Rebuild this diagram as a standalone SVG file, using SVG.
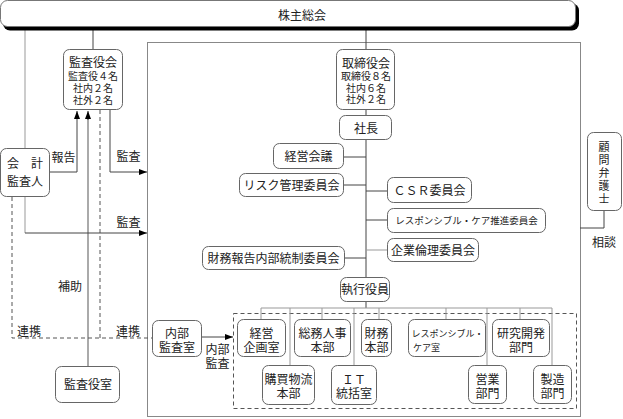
<svg xmlns="http://www.w3.org/2000/svg" width="623" height="419" viewBox="0 0 623 419">
<style>
text{font-family:"Noto Sans CJK JP","Noto Sans",sans-serif;fill:#222;text-anchor:middle}
.t12{font-size:12px}
.t11{font-size:11px}
.t10{font-size:10px}
.t9{font-size:9.5px}
.t9s{font-size:9px}
.box{fill:#fff;stroke:#666;stroke-width:1}
.ln{fill:none;stroke:#444;stroke-width:1}
.lg{fill:none;stroke:#999;stroke-width:1}
.lgw{fill:none;stroke:#aaa;stroke-width:2}
.dash{fill:none;stroke:#555;stroke-width:1;stroke-dasharray:4,3}
</style>
<defs>
<marker id="ah" markerWidth="8" markerHeight="6" refX="8" refY="3" orient="auto" markerUnits="userSpaceOnUse">
<path d="M0,0 L8,3 L0,6 z" fill="#000"/>
</marker>
</defs>
<rect width="623" height="419" fill="#fff"/>

<!-- frames -->
<rect x="147.5" y="42.5" width="433" height="374" fill="none" stroke="#888"/>
<rect x="233.5" y="313.5" width="343" height="95" class="dash" stroke="#888"/>

<g id="connectors">
<path class="lg" d="M25,30 V148"/>
<path class="ln" d="M93,30 V49"/>
<path class="ln" d="M366,30 V49"/>
<path class="ln" d="M50,172 H77 V111" marker-end="url(#ah)"/>
<path class="lgw" d="M88,366 V116"/>
<path class="ln" d="M88,120 V111" marker-end="url(#ah)"/>
<path class="dash" d="M100,110 V338"/>
<path class="ln" d="M110,110 V172 H147" marker-end="url(#ah)"/>
<path class="lg" d="M25,197 V233"/>
<path class="ln" d="M25,233 H147" marker-end="url(#ah)"/>
<path class="dash" d="M12,197 V338 H152"/>
<path class="ln" d="M202,337 H233" marker-end="url(#ah)"/>
<path class="ln" d="M604,210 V228 H580"/>
<path class="ln" d="M366,110 V115"/>
<path class="ln" d="M366,139 V277"/>
<path class="ln" d="M344,157 H366"/>
<path class="ln" d="M344,185 H366"/>
<path class="ln" d="M366,191 H387"/>
<path class="ln" d="M366,220 H387"/>
<path class="lg" d="M366,250 H387"/>
<path class="ln" d="M345,258 H366"/>
<path class="ln" d="M366,301 V308"/>
<path class="lg" d="M261,308 H552"/>
<path class="lg" d="M261,308 V319 M290,308 V365 M322,308 V319 M354,308 V365 M379,308 V319 M446,308 V319 M487,308 V365 M520,308 V319 M552,308 V365"/>
</g>

<g id="shareholders">
<rect x="3" y="3.5" width="576" height="27" rx="7" fill="#000"/>
<rect x="0.5" y="0.5" width="575" height="26" rx="7" fill="#fff" stroke="#777"/>
<text class="t12" x="302" y="19.5">株主総会</text>
</g>

<g id="kansayakukai">
<rect class="box" x="63.5" y="49.5" width="59" height="60" rx="6"/>
<text class="t12" x="93" y="66.5">監査役会<tspan class="t10" x="93" dy="13">監査役４名</tspan><tspan class="t10" x="93" dy="12.5">社内２名</tspan><tspan class="t10" x="93" dy="12">社外２名</tspan></text>
</g>

<g id="kaikei">
<rect class="box" x="0.5" y="148.5" width="49" height="48" rx="6"/>
<text class="t12" x="25" y="168">会　計<tspan x="25" dy="17.5">監査人</tspan></text>
</g>

<g id="kansayakushitsu">
<rect class="box" x="55.5" y="366.5" width="64" height="36" rx="6"/>
<text class="t12" x="88" y="389">監査役室</text>
</g>

<g id="naibukansa">
<rect class="box" x="152.5" y="320.5" width="49" height="36" rx="6"/>
<text class="t12" x="177" y="337.5">内部<tspan x="177" dy="14">監査室</tspan></text>
</g>

<g id="torishimariyakukai">
<rect class="box" x="336.5" y="49.5" width="58" height="60" rx="6"/>
<text class="t12" x="366" y="67.5">取締役会<tspan class="t10" x="366" dy="12.5">取締役８名</tspan><tspan class="t10" x="366" dy="11.5">社内６名</tspan><tspan class="t10" x="366" dy="11.5">社外２名</tspan></text>
</g>

<g id="shacho">
<rect class="box" x="339.5" y="115.5" width="52" height="24" rx="6"/>
<text class="t12" x="366" y="132.5">社長</text>
</g>

<g id="keieikaigi">
<rect class="box" x="273.5" y="143.5" width="70" height="25" rx="6"/>
<text class="t12" x="308.5" y="161">経営会議</text>
</g>

<g id="risk">
<rect class="box" x="239.5" y="173.5" width="104" height="23" rx="6"/>
<text class="t12" x="291.5" y="189.5">リスク管理委員会</text>
</g>

<g id="csr">
<rect class="box" x="387.5" y="177.5" width="84" height="25" rx="6"/>
<text class="t12" x="429.5" y="194.5">ＣＳＲ委員会</text>
</g>

<g id="rc">
<rect class="box" x="387.5" y="208.5" width="158" height="24" rx="6"/>
<text class="t9" x="466.5" y="224">レスポンシブル・ケア推進委員会</text>
</g>

<g id="rinri">
<rect class="box" x="387.5" y="238.5" width="91" height="23" rx="6"/>
<text class="t12" x="433" y="254.5">企業倫理委員会</text>
</g>

<g id="zaimuhokoku">
<rect class="box" x="202.5" y="246.5" width="142" height="23" rx="6"/>
<text class="t12" x="273.5" y="262.5">財務報告内部統制委員会</text>
</g>

<g id="shikkoyakuin">
<rect class="box" x="340.5" y="277.5" width="49" height="24" rx="6"/>
<text class="t12" x="365" y="293.5">執行役員</text>
</g>

<g id="komon">
<rect class="box" x="587.5" y="132.5" width="34" height="78" rx="6"/>
<text class="t11" x="604" y="151">顧<tspan x="604" dy="13">問</tspan><tspan x="604" dy="13">弁</tspan><tspan x="604" dy="13">護</tspan><tspan x="604" dy="13">士</tspan></text>
</g>

<g id="keieikikaku">
<rect class="box" x="237.5" y="319.5" width="48" height="37" rx="6"/>
<text class="t12" x="261.5" y="337.5">経営<tspan x="261.5" dy="14">企画室</tspan></text>
</g>
<g id="somujinji">
<rect class="box" x="294.5" y="319.5" width="56" height="37" rx="6"/>
<text class="t12" x="322.5" y="337.5">総務人事<tspan x="322.5" dy="14">本部</tspan></text>
</g>
<g id="zaimu">
<rect class="box" x="361.5" y="319.5" width="30" height="37" rx="6"/>
<text class="t12" x="376.5" y="337.5">財務<tspan x="376.5" dy="14">本部</tspan></text>
</g>
<g id="rcshitsu">
<rect class="box" x="408.5" y="319.5" width="77" height="37" rx="6"/>
<text class="t9s" x="411.5" y="336.5" style="text-anchor:start">レスポンシブル・<tspan x="413" dy="14">ケア室</tspan></text>
</g>
<g id="kenkyu">
<rect class="box" x="492.5" y="319.5" width="57" height="37" rx="6"/>
<text class="t12" x="521" y="337.5">研究開発<tspan x="521" dy="14">部門</tspan></text>
</g>
<g id="kobai">
<rect class="box" x="262.5" y="365.5" width="52" height="39" rx="6"/>
<text class="t12" x="288.5" y="383.5">購買物流<tspan x="288.5" dy="14">本部</tspan></text>
</g>
<g id="it">
<rect class="box" x="331.5" y="365.5" width="45" height="39" rx="6"/>
<text class="t12" x="354" y="383.5">ＩＴ<tspan x="354" dy="14">統括室</tspan></text>
</g>
<g id="eigyo">
<rect class="box" x="468.5" y="365.5" width="38" height="38" rx="6"/>
<text class="t12" x="487.5" y="383.5">営業<tspan x="487.5" dy="14">部門</tspan></text>
</g>
<g id="seizo">
<rect class="box" x="533.5" y="365.5" width="38" height="38" rx="6"/>
<text class="t12" x="552.5" y="383.5">製造<tspan x="552.5" dy="14">部門</tspan></text>
</g>

<g id="labels">
<text class="t12" x="63.5" y="161.5">報告</text>
<text class="t12" x="128.5" y="161">監査</text>
<text class="t12" x="128.5" y="226.5">監査</text>
<text class="t12" x="70" y="290.5">補助</text>
<text class="t12" x="29" y="335.5">連携</text>
<text class="t12" x="128" y="335.5">連携</text>
<text class="t12" x="217.5" y="353.5">内部<tspan x="217.5" dy="14">監査</tspan></text>
<text class="t12" x="604" y="246.5">相談</text>
</g>
</svg>
